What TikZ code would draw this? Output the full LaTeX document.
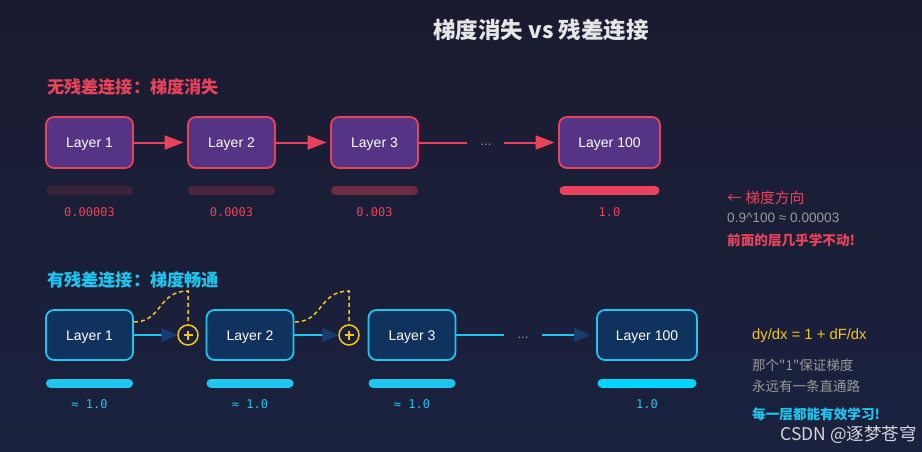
\documentclass[tikz,border=0pt]{standalone}
\usepackage{fontspec}
\setmainfont{Liberation Sans}
\setmonofont{DejaVu Sans Mono}
\newfontfamily\cjk{Noto Sans CJK SC}
\usetikzlibrary{arrows.meta}
\definecolor{bgtop}{HTML}{1A1B30}
\definecolor{bgbot}{HTML}{1A223F}
\definecolor{redc}{HTML}{E8435A}
\definecolor{purp}{HTML}{553385}
\definecolor{cyanc}{HTML}{1CC6EE}
\definecolor{cyanb}{HTML}{00D4FF}
\definecolor{navy}{HTML}{10325E}
\definecolor{headblue}{HTML}{173C70}
\definecolor{yel}{HTML}{F5C518}
\definecolor{grayt}{HTML}{9A9A9A}
\definecolor{titlec}{HTML}{E6E6E6}
\tikzset{
  toplayer/.style={draw=redc, fill=purp, line width=1.8pt, rounded corners=8pt,
    minimum width=87pt, minimum height=51pt, text=white, font=\fontsize{14}{16}\selectfont,
    text height=10pt, text depth=0pt},
  botlayer/.style={draw=cyanc, fill=navy, line width=1.8pt, rounded corners=8pt,
    minimum width=87pt, minimum height=50pt, text=white, font=\fontsize{14}{16}\selectfont,
    text height=10pt, text depth=0pt},
  redarrow/.style={draw=redc, line width=2pt, shorten >=3.5pt, -{Triangle[length=19pt,width=14pt,fill=redc]}},
  redline/.style={draw=redc, line width=2pt},
  cyanarrow/.style={draw=cyanc, line width=2pt, -{Triangle[length=16pt,width=14pt,fill=headblue,color=headblue]}},
  cyanline/.style={draw=cyanc, line width=2pt},
  plusnode/.style={circle, draw=yel, line width=1.5pt, minimum size=20pt, inner sep=0pt},
  skip/.style={draw=yel, line width=1.5pt, dash pattern=on 4pt off 3pt},
  bar/.style={line width=9pt, line cap=round},
  valtxt/.style={font=\ttfamily\fontsize{12}{14}\selectfont},
  dotstxt/.style={text=grayt, font=\fontsize{13}{14}\selectfont},
}
\begin{document}
\begin{tikzpicture}[x=1pt,y=-1pt]
\shade[top color=bgtop, bottom color=bgbot] (0,0) rectangle (922,452);
\useasboundingbox (0,0) rectangle (922,452);

% title
\node[text=titlec, font=\cjk\bfseries\fontsize{22.5}{26}\selectfont] (title) at (541,30) {梯度消失 vs 残差连接};

% ---------- top section ----------
\node[anchor=west, text=redc, font=\cjk\bfseries\fontsize{17.2}{20}\selectfont, inner sep=0pt] (toplabel) at (47,87) {无残差连接：梯度消失};

\node[toplayer] (t1) at (89.5,142.5) {Layer 1};
\node[toplayer] (t2) at (231.5,142.5) {Layer 2};
\node[toplayer] (t3) at (374.5,142.5) {Layer 3};
\node[toplayer, minimum width=101pt] (t100) at (609.5,142.5) {Layer 100};

\coordinate (tdl) at (467,142.5);
\coordinate (tdr) at (504,142.5);
\node[dotstxt] (tdots) at (486,145) {...};

\draw[redarrow] (t1) -- (t2);
\draw[redarrow] (t2) -- (t3);
\draw[redline] (t3) -- (tdl);
\draw[redarrow] (tdr) -- (t100);

\draw[bar, draw=redc, draw opacity=0.14] (50.5,190.5) -- (128.5,190.5);
\draw[bar, draw=redc, draw opacity=0.24] (192.5,190.5) -- (270.5,190.5);
\draw[bar, draw=redc, draw opacity=0.40] (335.5,190.5) -- (413.5,190.5);
\draw[bar, draw=redc] (564,190.5) -- (655,190.5);

\node[valtxt, text=redc] (tv1) at (89.5,212) {0.00003};
\node[valtxt, text=redc] (tv2) at (231.5,212) {0.0003};
\node[valtxt, text=redc] (tv3) at (374.5,212) {0.003};
\node[valtxt, text=redc] (tv100) at (609.5,212) {1.0};

\node[anchor=west, inner sep=0pt, text=redc, font=\cjk\fontsize{14.8}{17}\selectfont] (tr1) at (727,198) {← 梯度方向};
\node[anchor=west, inner sep=0pt, text=grayt, font=\fontsize{13.6}{16}\selectfont] (tr2) at (727,218) {0.9\^{}100 ≈ 0.00003};
\node[anchor=west, inner sep=0pt, text=redc, font=\cjk\bfseries\fontsize{13.6}{16}\selectfont] (tr3) at (727,240) {前面的层几乎学不动!};

% ---------- bottom section ----------
\node[anchor=west, text=cyanc, font=\cjk\bfseries\fontsize{17.2}{20}\selectfont, inner sep=0pt] (botlabel) at (47,280) {有残差连接：梯度畅通};

\node[botlayer] (b1) at (89.5,335) {Layer 1};
\node[botlayer] (b2) at (250,335) {Layer 2};
\node[botlayer] (b3) at (412,335) {Layer 3};
\node[botlayer, minimum width=100pt] (b100) at (647,335) {Layer 100};

\node[plusnode] (p1) at (188,335) {};
\node[plusnode] (p2) at (349,335) {};
\draw[yel, line width=1.3pt] ([xshift=-4.5pt]p1.center) -- ([xshift=4.5pt]p1.center)
  ([yshift=-4.5pt]p1.center) -- ([yshift=4.5pt]p1.center);
\draw[yel, line width=1.3pt] ([xshift=-4.5pt]p2.center) -- ([xshift=4.5pt]p2.center)
  ([yshift=-4.5pt]p2.center) -- ([yshift=4.5pt]p2.center);

\coordinate (bdl) at (504,335);
\coordinate (bdr) at (542,335);
\node[dotstxt] (bdots) at (523,338) {...};

\draw[cyanarrow] (b1.east) -- (p1.west);
\draw[cyanarrow] (b2.east) -- (p2.west);
\draw[cyanline] (b3.east) -- (bdl);
\draw[cyanarrow, shorten >=6pt] (bdr) -- (b100.west);

\coordinate (s1) at (134,322);
\coordinate (s1t) at (188,291);
\coordinate (s2) at (295,322);
\coordinate (s2t) at (349,291);
\draw[skip] (s1) .. controls (162,322) and (158,291) .. (s1t) -- (p1.north);
\draw[skip] (s2) .. controls (323,322) and (319,291) .. (s2t) -- (p2.north);

\draw[bar, draw=cyanc] (50.5,383) -- (128.5,383);
\draw[bar, draw=cyanc] (211,383) -- (289,383);
\draw[bar, draw=cyanc] (373,383) -- (451,383);
\draw[bar, draw=cyanb] (602,383) -- (692,383);

\node[valtxt, text=cyanc] (bv1) at (89.5,404) {≈ 1.0};
\node[valtxt, text=cyanc] (bv2) at (250,404) {≈ 1.0};
\node[valtxt, text=cyanc] (bv3) at (412,404) {≈ 1.0};
\node[valtxt, text=cyanc] (bv100) at (647,404) {1.0};

\node[anchor=west, inner sep=0pt, text=yel, font=\fontsize{14.8}{17}\selectfont] (br1) at (752,336) {dy/dx = 1 + dF/dx};
\node[anchor=west, inner sep=0pt, text=grayt, font=\cjk\fontsize{13.5}{15}\selectfont] (br2) at (752,365) {那个"1"保证梯度};
\node[anchor=west, inner sep=0pt, text=grayt, font=\cjk\fontsize{13.5}{15}\selectfont] (br3) at (752,386) {永远有一条直通路};
\node[anchor=west, inner sep=0pt, text=cyanc, font=\cjk\bfseries\fontsize{13.6}{16}\selectfont] (br4) at (752,414) {每一层都能有效学习!};

\node[anchor=east, inner sep=0pt, text=white!82!bgbot, font=\cjk\fontsize{17.5}{20}\selectfont] (wm) at (917,435) {CSDN @逐梦苍穹};
\end{tikzpicture}
\end{document}
